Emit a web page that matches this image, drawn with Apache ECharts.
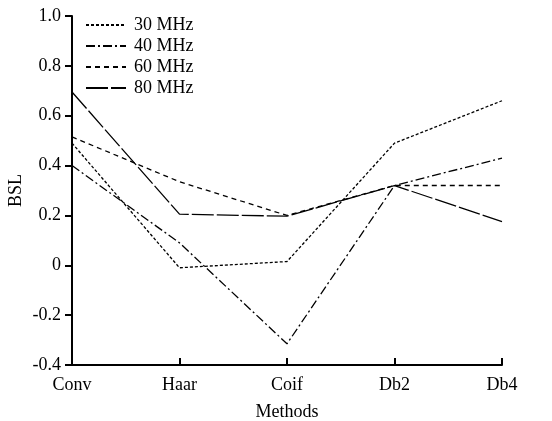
<!DOCTYPE html>
<html lang="en">
<head>
  <meta charset="UTF-8">
  <title>BSL vs Methods</title>
  <style>
    body { margin: 0; background: #fff; }
    #chart { width: 552px; height: 421px; }
  </style>
  <script src="https://cdn.jsdelivr.net/npm/echarts@6/dist/echarts.min.js"></script>
</head>
<body>
<div id="chart"></div>
<script>
  // data
  var methods = ['Conv', 'Haar', 'Coif', 'Db2', 'Db4'];
  var bsl30 = [0.49, -0.01, 0.015, 0.49, 0.66];
  var bsl40 = [0.40, 0.09, -0.315, 0.32, 0.43];
  var bsl60 = [0.515, 0.335, 0.20, 0.32, 0.32];
  var bsl80 = [0.695, 0.205, 0.197, 0.32, 0.175];

  var font = "'Liberation Serif', 'DejaVu Serif', serif";

  function line(name, data, dash) {
    return {
      name: name,
      type: 'line',
      data: data,
      symbol: 'none',
      lineStyle: { color: '#000', width: 1.3, type: dash },
      itemStyle: { color: '#000' }
    };
  }

  var myChart = echarts.init(document.getElementById('chart'));
  var option = {
    animation: false,
    textStyle: { fontFamily: font },
    grid: { left: 72, right: 50, top: 16, bottom: 56, outerBoundsMode: 'none' },
    legend: {
      left: 80,
      top: 11,
      orient: 'vertical',
      itemWidth: 40,
      itemHeight: 14,
      itemGap: 3,
      itemStyle: { opacity: 0 },
      textStyle: { fontFamily: font, fontSize: 18, color: '#000', padding: [0, 0, 0, 3] },
      data: ['30 MHz', '40 MHz', '60 MHz', '80 MHz']
    },
    xAxis: {
      type: 'category',
      data: methods,
      boundaryGap: false,
      name: 'Methods',
      nameLocation: 'middle',
      nameGap: 38,
      nameTextStyle: { fontFamily: font, fontSize: 18, color: '#000' },
      axisLine: { onZero: false, lineStyle: { color: '#000', width: 2 } },
      axisTick: { inside: true, length: 7, lineStyle: { color: '#000', width: 2 } },
      axisLabel: { fontFamily: font, fontSize: 18, color: '#000', margin: 11 },
      splitLine: { show: false }
    },
    yAxis: {
      type: 'value',
      min: -0.4,
      max: 1.0,
      interval: 0.2,
      name: 'BSL',
      nameLocation: 'middle',
      nameGap: 47,
      nameMoveOverlap: false,
      nameTextStyle: { fontFamily: font, fontSize: 18, color: '#000' },
      axisLine: { show: true, lineStyle: { color: '#000', width: 2 } },
      axisTick: { show: true, length: 7, lineStyle: { color: '#000', width: 2 } },
      axisLabel: {
        fontFamily: font, fontSize: 18, color: '#000', margin: 11,
        formatter: function (v) {
          var r = Math.round(v * 10) / 10;
          return r === 0 ? '0' : r.toFixed(1);
        }
      },
      splitLine: { show: false }
    },
    series: [
      line('30 MHz', bsl30, [3, 2]),
      line('40 MHz', bsl40, [9, 3, 2, 3]),
      line('60 MHz', bsl60, [5, 4]),
      line('80 MHz', bsl80, [22, 3])
    ]
  };
  myChart.setOption(option);
</script>
</body>
</html>
